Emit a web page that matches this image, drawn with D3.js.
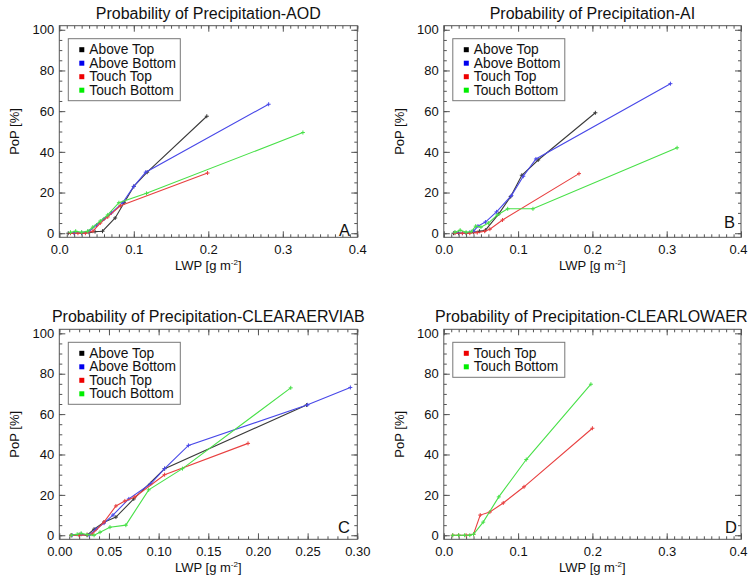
<!DOCTYPE html>
<html>
<head>
<meta charset="utf-8">
<script src="https://cdn.jsdelivr.net/npm/d3@7"></script>
<style>
  body { margin: 0; background: #fff; }
  svg { display: block; }
  text { font-family: "Liberation Sans", Arial, Helvetica, sans-serif; fill: #111; }
</style>
</head>
<body>
<svg id="chart" width="749" height="575"></svg>
<script>
// ---------- DATA ----------
const seriesNames = ["Above Top", "Above Bottom", "Touch Top", "Touch Bottom"];
const seriesColors = ["#3a3a3a", "#4848e8", "#e84040", "#48e048"];
const legendColors = ["#000000", "#0000ee", "#ee0000", "#00ee00"];

const panelTitles = ["Probability of Precipitation-AOD", "Probability of Precipitation-AI",
                     "Probability of Precipitation-CLEARAERVIAB", "Probability of Precipitation-CLEARLOWAER"];
const panelLetters = ["A", "B", "C", "D"];

const xTicksABD = [0.0, 0.1, 0.2, 0.3, 0.4];
const xTicksC = [0.00, 0.05, 0.10, 0.15, 0.20, 0.25, 0.30];
const yTicks = [0, 20, 40, 60, 80, 100];

// Panel A (AOD)
const aAboveTop = [[0.012,0],[0.02,0],[0.03,0],[0.04,0.3],[0.048,0.8],[0.058,1],[0.075,7.5],[0.087,15],[0.1,23],[0.118,30],[0.198,57.5]];
const aAboveBottom = [[0.02,0.2],[0.03,0.3],[0.04,1],[0.05,4],[0.06,7],[0.07,10],[0.085,15],[0.1,23],[0.116,30],[0.281,63.4]];
const aTouchTop = [[0.015,0],[0.025,0],[0.035,0],[0.045,1],[0.055,5],[0.065,8],[0.082,13.5],[0.199,29.6]];
const aTouchBottom = [[0.015,0.5],[0.022,1],[0.03,0.5],[0.038,1],[0.045,3],[0.055,6],[0.065,9],[0.08,15],[0.117,19.6],[0.327,49.5]];

// Panel B (AI)
const bAboveTop = [[0.013,0],[0.02,0],[0.03,0],[0.04,0.5],[0.048,1],[0.056,1.5],[0.074,9.5],[0.09,18],[0.105,28.5],[0.127,36],[0.204,59.2]];
const bAboveBottom = [[0.015,0.3],[0.025,0],[0.035,0.5],[0.04,1],[0.046,3.5],[0.056,5.5],[0.071,10.5],[0.091,18.5],[0.107,28],[0.124,36.5],[0.305,73.5]];
const bTouchTop = [[0.015,0],[0.025,0],[0.035,0],[0.045,0.3],[0.055,1],[0.062,2],[0.079,6.5],[0.182,29.3]];
const bTouchBottom = [[0.015,0.5],[0.022,1.5],[0.03,0.5],[0.037,0.8],[0.043,3.5],[0.05,3],[0.06,5],[0.072,9],[0.086,12],[0.12,12],[0.314,42]];

// Panel C (CLEARAERVIAB)
const cAboveTop = [[0.012,0],[0.02,0.3],[0.028,0],[0.035,3],[0.045,6.5],[0.057,9],[0.075,18],[0.106,33],[0.249,64.5]];
const cAboveBottom = [[0.013,0],[0.022,0.5],[0.03,0],[0.037,3],[0.045,6],[0.054,10],[0.07,18],[0.092,25.5],[0.106,33],[0.13,44.5],[0.25,64.6],[0.293,73.2]];
const cTouchTop = [[0.012,0],[0.02,0],[0.028,0.3],[0.033,0.5],[0.045,6.5],[0.057,14.5],[0.066,17],[0.076,19],[0.106,30],[0.19,45.5]];
const cTouchBottom = [[0.012,0],[0.018,0.5],[0.022,1],[0.028,0.3],[0.035,0],[0.041,1.5],[0.051,4],[0.067,5],[0.09,22.5],[0.124,33],[0.233,73]];

// Panel D (CLEARLOWAER)
const dTouchTop = [[0.012,0],[0.02,0],[0.03,0],[0.04,0.5],[0.049,10],[0.062,11.5],[0.08,16],[0.108,24],[0.2,53]];
const dTouchBottom = [[0.012,0],[0.02,0],[0.028,0],[0.035,0],[0.04,0.5],[0.053,6.5],[0.074,19],[0.111,37.5],[0.198,74.8]];

// ---------- DRAW ----------
const W = 749;
const svg = d3.select("#chart");

const panels = [
  { title: panelTitles[0], letter: panelLetters[0], series: [aAboveTop, aAboveBottom, aTouchTop, aTouchBottom], idx: [0,1,2,3],
    box: [59.3, 357.3, 25.7, 237.3], xDom: [0, 0.4], xTicks: xTicksABD, xMinor: 0.01, xFmt: ".1f", letterPos: [350, 235.5] },
  { title: panelTitles[1], letter: panelLetters[1], series: [bAboveTop, bAboveBottom, bTouchTop, bTouchBottom], idx: [0,1,2,3],
    box: [443.8, 741, 25.7, 237.3], xDom: [0, 0.4], xTicks: xTicksABD, xMinor: 0.01, xFmt: ".1f", letterPos: [735, 227.5] },
  { title: panelTitles[2], letter: panelLetters[2], series: [cAboveTop, cAboveBottom, cTouchTop, cTouchBottom], idx: [0,1,2,3],
    box: [59.3, 357.3, 329.3, 539.3], xDom: [0, 0.3], xTicks: xTicksC, xMinor: 0.01, xFmt: ".2f", letterPos: [350, 533] },
  { title: panelTitles[3], letter: panelLetters[3], series: [dTouchTop, dTouchBottom], idx: [2,3],
    box: [443.8, 741, 329.3, 539.3], xDom: [0, 0.4], xTicks: xTicksABD, xMinor: 0.01, xFmt: ".1f", letterPos: [737, 532.5] }
];

function range(a, b, step) {
  const out = [];
  const n = Math.round((b - a) / step);
  for (let i = 0; i <= n; i++) out.push(+(a + i * step).toFixed(6));
  return out;
}

function keepInside(sel) {
  sel.each(function () {
    const bb = this.getBBox();
    const m = this.getScreenCTM();
    const right = m.e + (bb.x + bb.width) * m.a;
    if (right > W - 1.5) {
      const dx = right - (W - 1.5);
      const cur = +d3.select(this).attr("x") || 0;
      d3.select(this).attr("x", cur - dx);
    }
  });
}

panels.forEach(p => {
  const [x0, x1, y0, y1] = p.box;
  const x = d3.scaleLinear().domain(p.xDom).range([x0, x1]);
  const y = d3.scaleLinear().domain([-2, 102]).range([y1, y0]);
  const g = svg.append("g");

  const xMinorVals = range(p.xDom[0], p.xDom[1], p.xMinor);
  const yMinorVals = range(0, 100, 5);

  const styleAxis = sel => {
    sel.select(".domain").remove();
    sel.selectAll(".tick line").attr("stroke", "#555").attr("stroke-width", 1);
    sel.selectAll(".tick text").attr("font-size", 13).attr("fill", "#111")
       .attr("font-family", "'Liberation Sans', Arial, Helvetica, sans-serif");
  };

  // minor ticks
  g.append("g").attr("transform", `translate(0,${y1})`)
    .call(d3.axisBottom(x).tickValues(xMinorVals).tickSize(-3).tickFormat("")).call(styleAxis);
  g.append("g").attr("transform", `translate(0,${y0})`)
    .call(d3.axisTop(x).tickValues(xMinorVals).tickSize(-3).tickFormat("")).call(styleAxis);
  g.append("g").attr("transform", `translate(${x0},0)`)
    .call(d3.axisLeft(y).tickValues(yMinorVals).tickSize(-3).tickFormat("")).call(styleAxis);
  g.append("g").attr("transform", `translate(${x1},0)`)
    .call(d3.axisRight(y).tickValues(yMinorVals).tickSize(-3).tickFormat("")).call(styleAxis);

  // major ticks with labels
  const xAxisG = g.append("g").attr("transform", `translate(0,${y1})`)
    .call(d3.axisBottom(x).tickValues(p.xTicks).tickSize(-6).tickPadding(7).tickFormat(d3.format(p.xFmt))).call(styleAxis);
  xAxisG.selectAll(".tick text").call(keepInside);
  g.append("g").attr("transform", `translate(0,${y0})`)
    .call(d3.axisTop(x).tickValues(p.xTicks).tickSize(-6).tickFormat("")).call(styleAxis);
  g.append("g").attr("transform", `translate(${x0},0)`)
    .call(d3.axisLeft(y).tickValues(yTicks).tickSize(-6).tickPadding(5).tickFormat(d3.format("d"))).call(styleAxis);
  g.append("g").attr("transform", `translate(${x1},0)`)
    .call(d3.axisRight(y).tickValues(yTicks).tickSize(-6).tickFormat("")).call(styleAxis);

  // box
  g.append("rect").attr("x", x0).attr("y", y0).attr("width", x1 - x0).attr("height", y1 - y0)
    .attr("fill", "none").attr("stroke", "#555").attr("stroke-width", 1);

  // series
  const line = d3.line().x(d => x(d[0])).y(d => y(d[1]));
  p.series.forEach((s, i) => {
    const c = seriesColors[p.idx[i]];
    g.append("path").datum(s).attr("d", line).attr("fill", "none")
      .attr("stroke", c).attr("stroke-width", 1.1);
    g.selectAll(null).data(s).enter().append("path")
      .attr("d", d => `M${x(d[0]) - 2},${y(d[1])}h4M${x(d[0])},${y(d[1]) - 2}v4`)
      .attr("stroke", c).attr("stroke-width", 1);
  });

  // title
  g.append("text").attr("x", (x0 + x1) / 2).attr("y", y0 - 7).attr("text-anchor", "middle")
    .attr("font-size", 16).text(p.title).call(keepInside);

  // axis titles
  const xt = g.append("text").attr("x", (x0 + x1) / 2).attr("y", y1 + 33).attr("text-anchor", "middle")
    .attr("font-size", 13);
  xt.append("tspan").text("LWP [g m");
  xt.append("tspan").attr("font-size", 8).attr("dy", -5).text("-2");
  xt.append("tspan").attr("dy", 5).text("]");

  g.append("text").attr("transform", `translate(${x0 - 40},${(y0 + y1) / 2}) rotate(-90)`)
    .attr("text-anchor", "middle").attr("font-size", 13).text("PoP [%]");

  // panel letter
  g.append("text").attr("x", p.letterPos[0]).attr("y", p.letterPos[1]).attr("text-anchor", "end")
    .attr("font-size", 16.5).text(p.letter);

  // legend
  const n = p.series.length;
  const lx = x0 + 9, ly = y0 + 13;
  const lh = 13.5;
  g.append("rect").attr("x", lx).attr("y", ly).attr("width", 112).attr("height", n * lh + 8)
    .attr("fill", "#fff").attr("stroke", "#777").attr("stroke-width", 1);
  p.idx.forEach((si, k) => {
    const cy = ly + 11 + k * lh;
    g.append("rect").attr("x", lx + 11).attr("y", cy - 2.5).attr("width", 5).attr("height", 5)
      .attr("fill", legendColors[si]);
    g.append("text").attr("x", lx + 21).attr("y", cy + 4.5).attr("font-size", 13.8).text(seriesNames[si]);
  });
});
</script>
</body>
</html>
